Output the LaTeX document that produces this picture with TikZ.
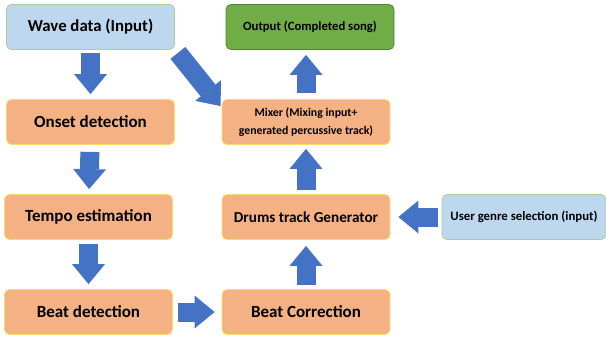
\documentclass[tikz,border=0pt]{standalone}
\usepackage{fontspec}
\setmainfont{Carlito}
\usetikzlibrary{arrows.meta}

\definecolor{inblue}{HTML}{BDD7EE}
\definecolor{inedge}{HTML}{A9D18E}
\definecolor{stepfill}{HTML}{F4B183}
\definecolor{stepedge}{HTML}{FFD966}
\definecolor{outgreen}{HTML}{70AD47}
\definecolor{outedge}{HTML}{548235}
\definecolor{arrowblue}{HTML}{4472C4}

\begin{document}
\begin{tikzpicture}[x=1pt, y=1pt, node distance=95pt,
  box/.style={rounded corners=5pt, line width=0.8pt, minimum width=168pt, minimum height=45pt, align=center, font=\bfseries},
  inbox/.style={box, fill=inblue, draw=inedge},
  stepbox/.style={box, fill=stepfill, draw=stepedge},
  outbox/.style={box, fill=outgreen, draw=outedge},
  bigarrow/.style={arrowblue, line width=19pt, shorten <=4pt, shorten >=5pt,
    -{Triangle[length=20pt, width=33pt, line width=0pt]}}]
  \useasboundingbox (0,0) rectangle (606,-338);

  % left column
  \node[inbox] (wave) at (90.5,-27) {\fontsize{16.8}{19}\selectfont Wave data (Input)};
  \node[stepbox] (onset) [below of=wave] {\fontsize{17}{19}\selectfont Onset detection};
  \node[stepbox] (tempo) [below of=onset, xshift=-2pt] {\fontsize{17}{19}\selectfont Tempo estimation};
  \node[stepbox] (beat) [below of=tempo] {\fontsize{17}{19}\selectfont Beat detection};

  % right column
  \node[stepbox] (correct) [right of=beat, xshift=122.5pt] {\fontsize{17}{19}\selectfont Beat Correction};
  \node[stepbox] (drums) [above of=correct] {\fontsize{15.2}{17}\selectfont Drums track Generator};
  \node[stepbox, font=\bfseries\fontsize{11.8}{17.5}\selectfont] (mixer) [above of=drums] {Mixer (Mixing input+\\ generated percussive track)};
  \node[outbox] (output) [above of=mixer, xshift=4pt] {\fontsize{12.7}{15}\selectfont Output (Completed song)};
  \node[inbox, minimum width=164pt] (user) [right of=drums, xshift=123pt] {\fontsize{12.8}{15}\selectfont User genre selection (input)};

  % arrows
  \draw[bigarrow, shorten <=3pt] (wave) -- (onset);
  \draw[bigarrow, shorten <=7pt] (onset) -- (tempo);
  \draw[bigarrow] (tempo) -- (beat);
  \draw[bigarrow, shorten <=5pt, shorten >=7pt] (beat) -- (correct);
  \draw[bigarrow, shorten >=6pt] (correct) -- (drums);
  \draw[bigarrow, shorten >=4pt] (drums) -- (mixer);
  \draw[bigarrow, shorten <=6pt] (mixer) -- ([xshift=-4pt]output.south);
  \draw[bigarrow, shorten <=4pt, shorten >=8pt] (user) -- (drums);
  \draw[bigarrow, shorten <=0pt, shorten >=0pt] ([shift={(3pt,-3pt)}]wave.south east) -- ([shift={(-1pt,-7pt)}]mixer.north west);
\end{tikzpicture}
\end{document}
